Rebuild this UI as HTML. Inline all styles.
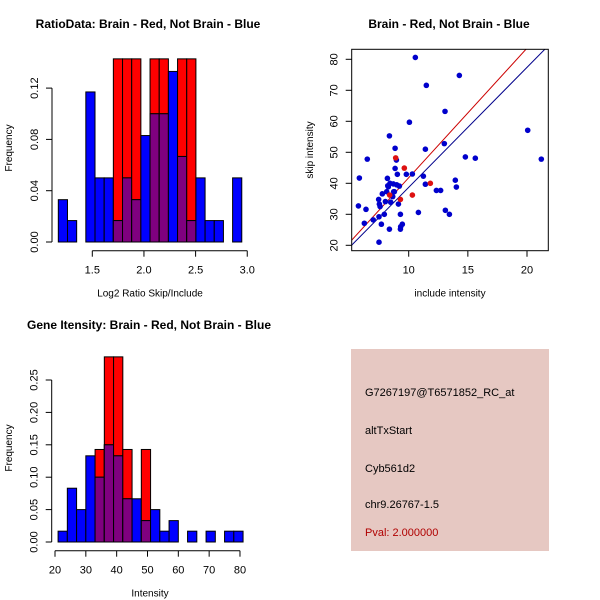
<!DOCTYPE html>
<html><head><meta charset="utf-8"><style>
html,body{margin:0;padding:0;background:#fff;}
svg{display:block;font-family:"Liberation Sans",sans-serif;}
</style></head><body>
<svg id="c" width="600" height="600" xmlns="http://www.w3.org/2000/svg">
<rect x="351" y="349" width="198" height="202" fill="#e6c8c2"/>
<g font-size="11">
<text x="365" y="396">G7267197@T6571852_RC_at</text>
<text x="365" y="434">altTxStart</text>
<text x="365" y="472">Cyb561d2</text>
<text x="365" y="508">chr9.26767-1.5</text>
<text x="365" y="536" fill="#b00000">Pval: 2.000000</text>
</g>
</svg>
<script>
// Histogram 1 (ratio)
const h1Start = 1.171, h1Width = 0.0888;
const h1Blue = [0.033,0.0167,0,0.117,0.05,0.05,0.0167,0.05,0.033,0.083,0.1,0.1,0.133,0.0667,0.0167,0.05,0.0167,0.0167,0,0.05];
const h1Red  = [0,0,0,0,0,0,0.1428,0.1428,0.1428,0,0.1428,0.1428,0,0.1428,0.1428,0,0,0,0,0];
const h1XTicks = [1.5,2.0,2.5,3.0];
const h1XTickLabels = ["1.5","2.0","2.5","3.0"];
const h1YTicks = [0,0.04,0.08,0.12];
const h1YTickLabels = ["0.00","0.04","0.08","0.12"];
// Histogram 2 (intensity)
const h2Start = 21.0, h2Width = 3.0;
const h2Blue = [0.0167,0.083,0.05,0.133,0.1,0.15,0.133,0.0667,0.0667,0.033,0.05,0.0167,0.033,0,0.0167,0,0.0167,0,0.0167,0.0167];
const h2Red  = [0,0,0,0,0.1428,0.2857,0.2857,0.1428,0,0.1428,0,0,0,0,0,0,0,0,0,0];
const h2XTicks = [20,30,40,50,60,70,80];
const h2XTickLabels = ["20","30","40","50","60","70","80"];
const h2YTicks = [0,0.05,0.10,0.15,0.20,0.25];
const h2YTickLabels = ["0.00","0.05","0.10","0.15","0.20","0.25"];
// Scatter
const blueX = [5.75,5.83,6.25,6.39,6.5,7.0,7.46,7.49,7.69,7.77,7.94,8.37,8.37,8.85,8.85,8.96,9.04,9.3,9.46,9.8,10.06,10.31,10.56,10.82,11.24,11.41,11.41,11.49,12.34,12.7,13.01,13.07,13.1,13.44,13.94,14.03,14.28,14.79,15.63,20.06,21.21,8.2,8.28,8.14,8.03,8.48,8.65,8.73,8.42,8.7,8.99,9.21,9.13,7.52,7.58,7.49,9.3,9.32,8.23,8.79];
const blueY = [32.7,41.7,27.1,31.6,47.8,28.2,34.8,21,26.8,36.6,30,55.3,25.2,51.3,44.8,47.5,42.9,30,26.8,42.9,59.7,43,80.6,30.6,42.3,51,39.7,71.6,37.7,37.7,52.8,63.2,31.3,30,41,38.8,74.8,48.5,48.1,57.1,47.8,41.6,38.9,37.3,34.1,33.9,35.7,37.3,40,39.8,39.5,39.1,33.3,33.3,32.5,29.2,25.2,26,39.2,37.3];
const redX = [8.9,9.63,8.39,9.3,10.31,11.83];
const redY = [48.2,44.9,36.2,34.8,36.2,40];
const redSlope = 4.18, blueSlope = 3.87;
const scXTicks = [10,15,20];
const scYTicks = [20,30,40,50,60,70,80];

const NS="http://www.w3.org/2000/svg";
const svg=document.getElementById('c');
function mk(tag,attrs,parent){const e=document.createElementNS(NS,tag);for(const k in attrs)e.setAttribute(k,attrs[k]);(parent||svg).appendChild(e);return e;}
function txt(x,y,s,attrs,parent){const e=mk('text',Object.assign({x:x,y:y},attrs||{}),parent);e.textContent=s;return e;}

function hist(cfg){
  const g=mk('g',{});
  
  
  const sx=v=>cfg.x0+(v-cfg.xv0)*cfg.kx, sy=v=>cfg.y0-v*cfg.ky;
  const n=cfg.blue.length;
  for(let i=0;i<n;i++){
    const a=sx(cfg.start+i*cfg.width), b=sx(cfg.start+(i+1)*cfg.width);
    const r=cfg.red[i], bl=cfg.blue[i], m=Math.min(r,bl);
    if(r>0){const e=mk('rect',{x:a,y:sy(r),width:b-a,height:sy(0)-sy(r),fill:'#ff0000',stroke:'#000','stroke-width':1},g);
      
      }
    if(bl>0){const e=mk('rect',{x:a,y:sy(bl),width:b-a,height:sy(0)-sy(bl),fill:'#0000ff',stroke:'#000','stroke-width':1},g);
      
      }
    if(m>0){const e=mk('rect',{x:a,y:sy(m),width:b-a,height:sy(0)-sy(m),fill:'#7f007f',stroke:'#000','stroke-width':1},g);
      
      }
  }
  // y axis
  const ya=mk('g',{},g);
  
  
  const yl=cfg.yTicks[0], yh=cfg.yTicks[cfg.yTicks.length-1];
  mk('line',{x1:cfg.yAxisX,y1:sy(yl),x2:cfg.yAxisX,y2:sy(yh),stroke:'#000'},ya);
  cfg.yTicks.forEach((t,i)=>{const y=sy(t);mk('line',{x1:cfg.yAxisX,y1:y,x2:cfg.yAxisX-6,y2:y,stroke:'#000'},ya);
    txt(cfg.yAxisX-14,y,cfg.yLabels[i],{'font-size':11,'text-anchor':'middle',transform:`rotate(-90 ${cfg.yAxisX-14} ${y})`},ya);});
  // x axis
  const xa=mk('g',{},g);
  
  
  mk('line',{x1:sx(cfg.xTicks[0]),y1:cfg.xAxisY,x2:sx(cfg.xTicks[cfg.xTicks.length-1]),y2:cfg.xAxisY,stroke:'#000'},xa);
  cfg.xTicks.forEach((t,i)=>{const x=sx(t);mk('line',{x1:x,y1:cfg.xAxisY,x2:x,y2:cfg.xAxisY+6,stroke:'#000'},xa);
    txt(x,cfg.xAxisY+23,cfg.xLabels[i],{'font-size':11,'text-anchor':'middle'},xa);});
  const xt=txt(cfg.xTitleX,cfg.xAxisY+46,cfg.xTitle,{'font-size':10,'text-anchor':'middle'},g);
  
  
  const ytt=txt(12,cfg.yTitleY,'Frequency',{'font-size':10,'text-anchor':'middle',transform:`rotate(-90 12 ${cfg.yTitleY})`},g);
  
  
  const tt=txt(cfg.titleX,cfg.titleY,cfg.title,{'font-size':12,'font-weight':'bold','text-anchor':'middle'},g);
  
  
}

hist({name:'ratio-histogram',start:h1Start,width:h1Width,blue:h1Blue,red:h1Red,
  x0:92.3,xv0:1.5,kx:103.3,y0:242,ky:1282.5,yAxisX:52,xAxisY:250.7,
  xTicks:h1XTicks,xLabels:h1XTickLabels,yTicks:h1YTicks,yLabels:h1YTickLabels,
  xTitle:'Log2 Ratio Skip/Include',xTitleX:150,yTitleY:148,
  title:'RatioData: Brain - Red, Not Brain - Blue',titleX:148,titleY:28});

hist({name:'intensity-histogram',start:h2Start,width:h2Width,blue:h2Blue,red:h2Red,
  x0:55,xv0:20,kx:3.083,y0:542,ky:648,yAxisX:51.7,xAxisY:550.7,
  xTicks:h2XTicks,xLabels:h2XTickLabels,yTicks:h2YTicks,yLabels:h2YTickLabels,
  xTitle:'Intensity',xTitleX:150,yTitleY:448,
  title:'Gene Itensity: Brain - Red, Not Brain - Blue',titleX:149,titleY:329});

// Scatter
(function(){
  const g=mk('g',{});
  
  
  const L=351.7,R=548.3,T=49.3,B=250.7;
  const sx=v=>408.7+(v-10)*11.83, sy=v=>245.3-(v-20)*3.1;
  const xv0=10-(408.7-L)/11.83, xv1=10+(R-408.7)/11.83;
  const clip=mk('clipPath',{id:'scclip'},g);mk('rect',{x:L,y:T,width:R-L,height:B-T},clip);
  const lines=mk('g',{'clip-path':'url(#scclip)'},g);
  const rl=mk('line',{x1:sx(xv0),y1:sy(redSlope*xv0),x2:sx(xv1),y2:sy(redSlope*xv1),stroke:'#cc0000','stroke-width':1},lines);
  
  
  const bline=mk('line',{x1:sx(xv0),y1:sy(blueSlope*xv0),x2:sx(xv1),y2:sy(blueSlope*xv1),stroke:'#00008b','stroke-width':1},lines);
  
  
  blueX.forEach((x,i)=>{const c=mk('circle',{cx:sx(x),cy:sy(blueY[i]),r:2.8,fill:'#0000cc'},g);
    
    });
  redX.forEach((x,i)=>{const c=mk('circle',{cx:sx(x),cy:sy(redY[i]),r:2.8,fill:'#dd1111'},g);
    
    });
  const fr=mk('rect',{x:L,y:T,width:R-L,height:B-T,fill:'none',stroke:'#000'},g);
  
  
  scXTicks.forEach(t=>{const x=sx(t);mk('line',{x1:x,y1:B,x2:x,y2:B+6,stroke:'#000'},g);txt(x,B+23,String(t),{'font-size':11,'text-anchor':'middle'},g);});
  scYTicks.forEach(t=>{const y=sy(t);mk('line',{x1:L,y1:y,x2:L-6,y2:y,stroke:'#000'},g);txt(L-14,y,String(t),{'font-size':11,'text-anchor':'middle',transform:`rotate(-90 ${L-14} ${y})`},g);});
  const xt=txt(450,B+46,'include intensity',{'font-size':10,'text-anchor':'middle'},g);
  
  
  const yt=txt(313,150,'skip intensity',{'font-size':10,'text-anchor':'middle',transform:'rotate(-90 313 150)'},g);
  
  
  const tt=txt(449,28,'Brain - Red, Not Brain - Blue',{'font-size':12,'font-weight':'bold','text-anchor':'middle'},g);
  
  
})();
</script>
</body></html>
